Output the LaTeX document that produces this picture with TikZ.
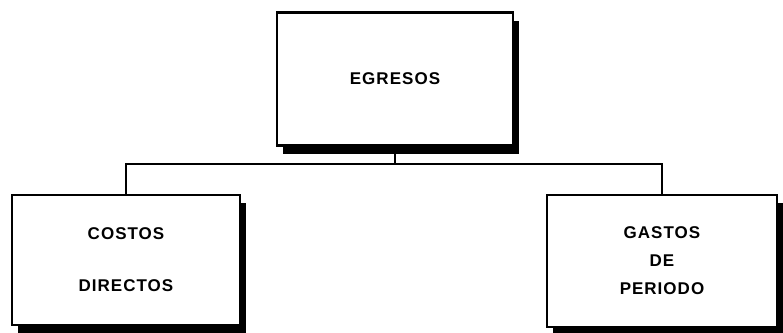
\documentclass[tikz,border=0pt]{standalone}
\usepackage{fontspec}
\newfontfamily\boxfont[LetterSpace=6]{Liberation Sans}
\usepackage{tikz}
\usetikzlibrary{shadows,calc}

\begin{document}
\begin{tikzpicture}[
      x=1pt,
      y=-1pt,
      font=\boxfont\bfseries\fontsize{17}{20}\selectfont,
      account/.style={
        draw, fill=white, line width=2.2pt, align=center,
        inner sep=0pt,
        drop shadow={shadow xshift=6pt, shadow yshift=-8pt,
                     fill=black, opacity=1}
      },
      link/.style={line width=2pt}
    ]
    \useasboundingbox (0,0) rectangle (783,332);

    \node[account, minimum width=236pt, minimum height=133pt] (egresos)
      at (395,79) {EGRESOS};

    \node[account, minimum width=228pt, minimum height=130pt] (costos)
      at (126,260) {COSTOS\\[32pt]DIRECTOS};

    \node[account, minimum width=230pt, minimum height=132pt] (gastos)
      at (662,261) {GASTOS\\[8pt]DE\\[8pt]PERIODO};

    \coordinate (bus) at (0,164);

    \foreach \b in {costos,gastos}
      \draw[link] (egresos.south) -- (egresos.south |- bus) -| (\b.north);
  \end{tikzpicture}
\end{document}
